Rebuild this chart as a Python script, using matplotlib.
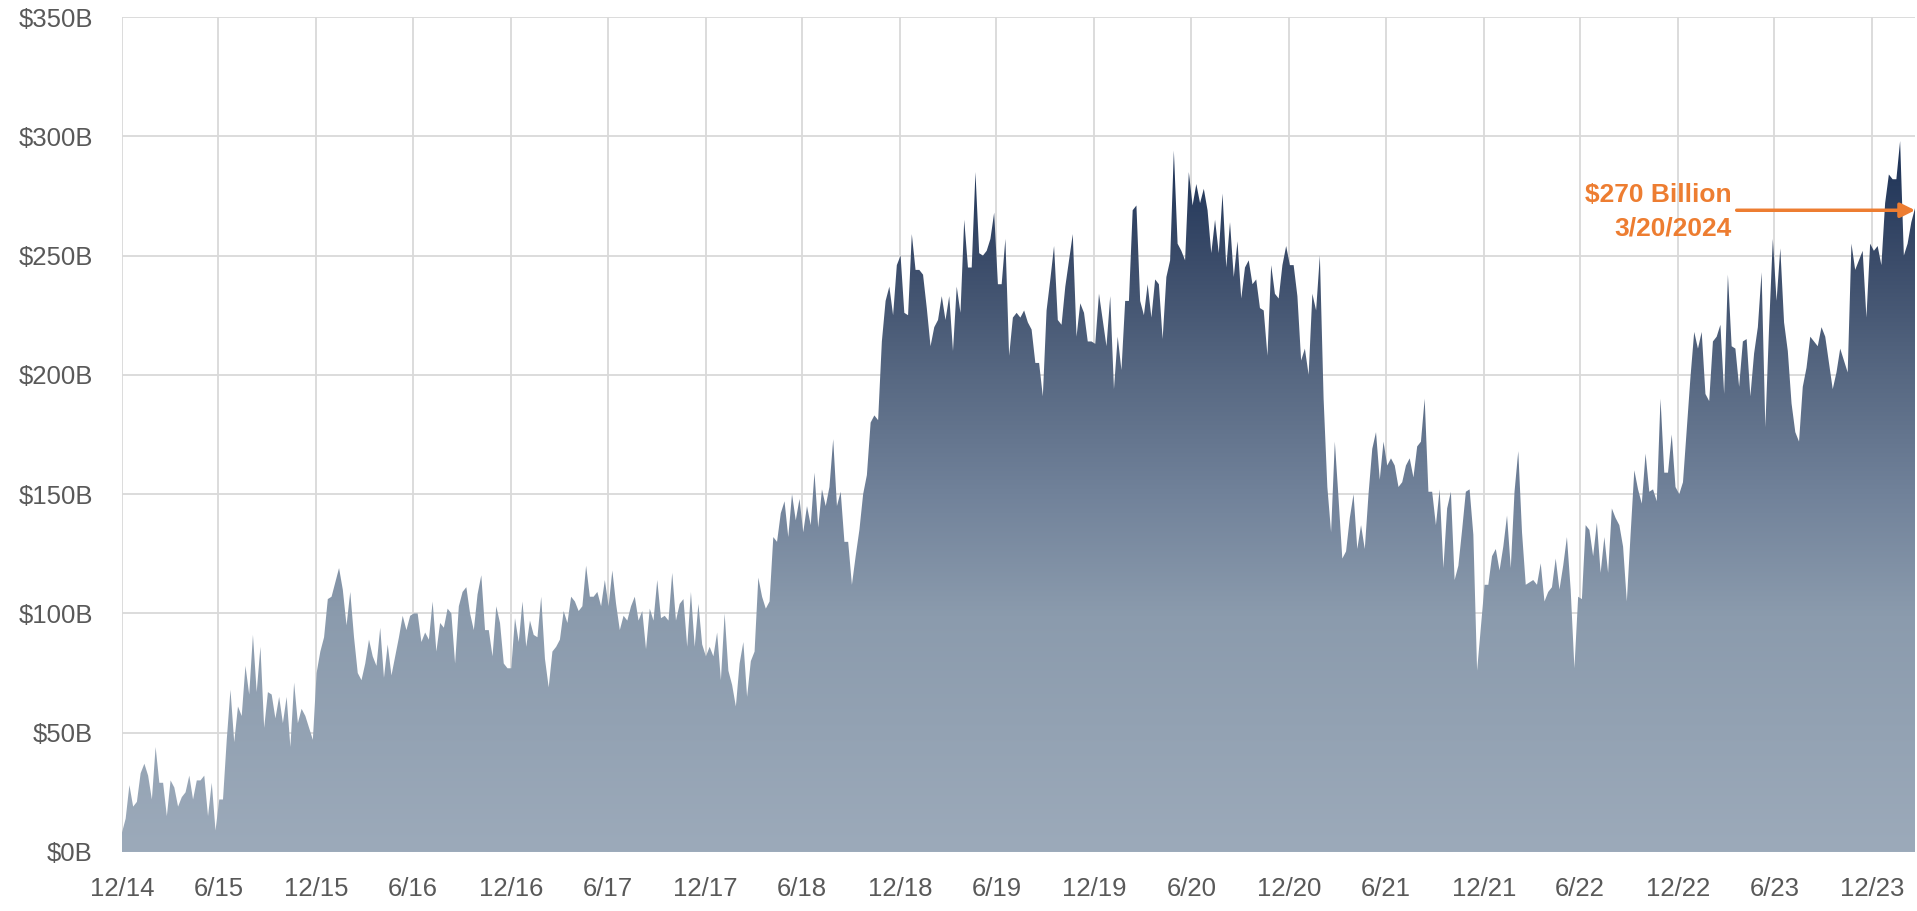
import numpy as np
import pandas as pd
import matplotlib
matplotlib.use("Agg")
import matplotlib.pyplot as plt
import matplotlib.dates as mdates
from matplotlib.colors import LinearSegmentedColormap

# weekly values in $B, grouped by half-year
h2_2014 = [8, 14, 28, 19, 21, 33, 37, 32, 22, 44, 29, 29, 15, 30, 27, 19, 23, 25, 32, 22, 30, 30, 32, 15, 29, 9]
h2_2015 = [22, 22, 47, 68, 46, 61, 57, 78, 66, 91, 67, 86, 52, 67, 66, 56, 65, 54, 65, 44, 71, 54, 60, 57, 52, 47]
h1_2016 = [75, 84, 90, 106, 107, 113, 119, 110, 95, 109, 90, 75, 72, 79, 89, 82, 78, 94, 73, 87, 74, 82, 90, 99, 93, 99]
h2_2016 = [100, 100, 88, 92, 89, 105, 84, 96, 94, 102, 100, 79, 103, 109, 111, 100, 93, 108, 116, 93, 93, 82, 103, 96, 79, 77]
h1_2017 = [77, 98, 88, 105, 86, 97, 91, 90, 107, 81, 69, 84, 86, 89, 101, 96, 107, 105, 101, 103, 120, 107, 107, 109, 103, 114]
h2_2017 = [103, 118, 104, 93, 99, 97, 103, 107, 97, 101, 85, 102, 97, 114, 98, 99, 97, 117, 97, 104, 106, 86, 109, 86, 104, 87]
h1_2018 = [82, 86, 82, 92, 72, 100, 76, 70, 61, 79, 88, 65, 80, 84, 115, 107, 102, 105, 132, 130, 142, 147, 132, 150, 139, 148]
h2_2018 = [134, 145, 137, 159, 136, 152, 145, 153, 173, 145, 151, 130, 130, 112, 124, 135, 150, 158, 180, 183, 181, 214, 231, 237, 225, 246]
h1_2019 = [250, 226, 225, 259, 244, 244, 242, 228, 212, 220, 223, 233, 223, 233, 210, 237, 226, 265, 245, 245, 285, 251, 250, 252, 257, 268]
h2_2019 = [238, 238, 257, 208, 224, 226, 224, 227, 222, 219, 205, 205, 191, 227, 240, 254, 223, 221, 237, 248, 259, 216, 230, 226, 214, 214]
h1_2020 = [213, 234, 223, 212, 233, 194, 216, 202, 231, 231, 269, 271, 231, 225, 238, 224, 240, 238, 215, 241, 248, 294, 255, 252, 248, 285]
h2_2020 = [271, 280, 272, 278, 269, 251, 265, 251, 276, 245, 264, 241, 256, 232, 245, 248, 238, 240, 228, 227, 208, 246, 234, 232, 246, 254]
h1_2021 = [246, 246, 233, 206, 211, 200, 234, 227, 250, 190, 153, 134, 172, 148, 123, 126, 140, 150, 127, 137, 127, 150, 169, 176, 156, 172]
h2_2021 = [162, 165, 162, 153, 155, 162, 165, 157, 170, 172, 190, 151, 151, 137, 152, 119, 144, 151, 114, 120, 135, 151, 152, 133, 76, 94]
h1_2022 = [112, 112, 124, 127, 118, 128, 141, 119, 151, 168, 134, 112, 113, 114, 112, 121, 105, 109, 111, 123, 110, 120, 132, 110, 77, 107]
h2_2022 = [106, 137, 135, 124, 138, 117, 132, 117, 144, 140, 137, 128, 105, 133, 160, 152, 146, 167, 151, 152, 147, 190, 159, 159, 175, 153]
h1_2023 = [150, 155, 177, 199, 218, 211, 218, 192, 189, 214, 216, 221, 192, 242, 212, 211, 195, 214, 215, 191, 209, 220, 243, 178, 220, 257]
h2_2023 = [231, 253, 222, 210, 188, 176, 172, 195, 203, 216, 214, 212, 220, 216, 205, 194, 201, 211, 206, 201, 255, 244, 248, 252, 224, 255]
q1_2024 = [252, 254, 246, 272, 284, 282, 282, 298, 250, 255, 264, 270]

values = np.array(h2_2014 + h2_2015 + h1_2016 + h2_2016 + h1_2017 + h2_2017 + h1_2018
                  + h2_2018 + h1_2019 + h2_2019 + h1_2020 + h2_2020 + h1_2021 + h2_2021
                  + h1_2022 + h2_2022 + h1_2023 + h2_2023 + q1_2024, dtype=float)
dates = pd.date_range("2014-12-31", "2024-03-20", periods=len(values))
x = mdates.date2num(dates)

tick_dates = []
for yr in range(2014, 2024):
    tick_dates.append(pd.Timestamp(yr, 12, 31))
    if yr < 2023:
        tick_dates.append(pd.Timestamp(yr + 1, 6, 30))
tick_labels = [f"{d.month}/{d.year % 100}" for d in tick_dates]
y_ticks = list(range(0, 351, 50))
y_labels = [f"${v}B" for v in y_ticks]

orange = "#ED7D31"
grey_text = "#595959"
font = ["Liberation Sans", "DejaVu Sans"]

fig = plt.figure(figsize=(19.17, 9.11), dpi=100)
ax = fig.add_axes([0.0636, 0.0648, 0.9354, 0.9165])

# gradient fill clipped to the area under the series
cmap = LinearSegmentedColormap.from_list("area", [
    (0.0, "#9CAABA"), (0.33, "#8B9BAD"), (0.5, "#71829A"),
    (0.667, "#576882"), (0.833, "#3A4B69"), (1.0, "#1A3055")])
poly = ax.fill_between(x, values, 0, facecolor="none", edgecolor="none")
grad = np.linspace(0, 1, 256).reshape(-1, 1)
im = ax.imshow(grad, cmap=cmap, extent=[x[0], x[-1], 0, 300], origin="lower",
               aspect="auto", zorder=2, interpolation="bilinear")
im.set_clip_path(poly.get_paths()[0], transform=ax.transData)

ax.set_xlim(x[0], x[-1])
ax.set_ylim(0, 350)
ax.set_xticks(mdates.date2num(tick_dates))
ax.set_xticklabels(tick_labels)
ax.set_yticks(y_ticks)
ax.set_yticklabels(y_labels)
for lab in ax.get_xticklabels() + ax.get_yticklabels():
    lab.set_family(font)
    lab.set_fontsize(18.5)
    lab.set_color(grey_text)
ax.tick_params(axis="both", length=0)
ax.tick_params(axis="x", pad=18)
ax.tick_params(axis="y", pad=21)
ax.grid(True, color="#D9D9D9", linewidth=1.3)
ax.set_axisbelow(True)
for s in ax.spines.values():
    s.set_visible(False)

# annotation for latest value
tail = mdates.date2num(pd.Timestamp("2023-04-20"))
ax.annotate("", xy=(x[-1], 269), xytext=(tail, 269),
            arrowprops=dict(arrowstyle="-|>", color=orange, lw=2.5,
                            mutation_scale=22, shrinkA=0, shrinkB=0),
            zorder=5, annotation_clip=False)
ax.text(mdates.date2num(pd.Timestamp("2023-04-10")), 268.5,
        f"${values[-1]:.0f} Billion\n3/20/2024", ha="right", va="center",
        multialignment="right", color=orange, fontsize=19, fontweight="bold",
        family=font, linespacing=1.5, zorder=5)

fig.savefig("out.png", dpi=100)
